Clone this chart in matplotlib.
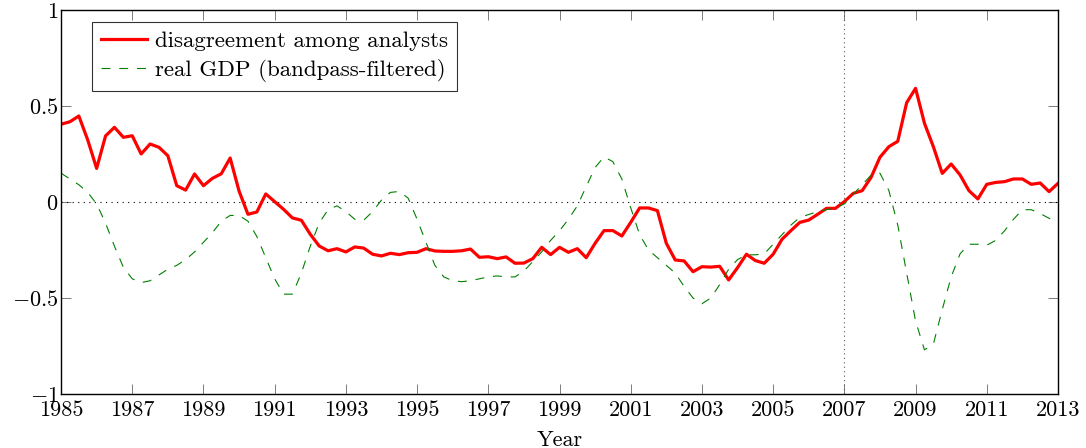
import numpy as np
import matplotlib
matplotlib.use("Agg")
import matplotlib.pyplot as plt

plt.rcParams['font.family'] = 'cmr10'
plt.rcParams['mathtext.fontset'] = 'cm'
plt.rcParams['axes.formatter.use_mathtext'] = True

# quarterly data, 1985Q1 .. 2013Q1
disagreement = [
    0.405, 0.418, 0.448, 0.323,
    0.175, 0.344, 0.389, 0.337,
    0.345, 0.250, 0.302, 0.285,
    0.241, 0.085, 0.062, 0.146,
    0.085, 0.123, 0.147, 0.229,
    0.057, -0.064, -0.052, 0.042,
    0.002, -0.038, -0.083, -0.095,
    -0.168, -0.229, -0.254, -0.243,
    -0.260, -0.234, -0.240, -0.272,
    -0.281, -0.267, -0.274, -0.264,
    -0.262, -0.243, -0.255, -0.257,
    -0.257, -0.254, -0.245, -0.288,
    -0.285, -0.295, -0.286, -0.319,
    -0.318, -0.295, -0.236, -0.274,
    -0.236, -0.262, -0.243, -0.290,
    -0.215, -0.149, -0.149, -0.177,
    -0.106, -0.031, -0.031, -0.045,
    -0.215, -0.302, -0.307, -0.363,
    -0.337, -0.339, -0.335, -0.406,
    -0.342, -0.272, -0.305, -0.319,
    -0.272, -0.194, -0.149, -0.106,
    -0.094, -0.064, -0.033, -0.033,
    0.002, 0.045, 0.059, 0.128,
    0.233, 0.288, 0.316, 0.517,
    0.592, 0.410, 0.288, 0.149,
    0.198, 0.141, 0.059, 0.016,
    0.092, 0.102, 0.106, 0.120,
    0.120, 0.092, 0.099, 0.054,
    0.097,
]

gdp = [
    0.15, 0.12, 0.09, 0.05,
    -0.01, -0.11, -0.23, -0.34,
    -0.40, -0.42, -0.41, -0.38,
    -0.35, -0.33, -0.30, -0.26,
    -0.21, -0.16, -0.10, -0.07,
    -0.07, -0.10, -0.18, -0.29,
    -0.40, -0.48, -0.48, -0.37,
    -0.23, -0.11, -0.04, -0.02,
    -0.05, -0.09, -0.095, -0.05,
    0.01, 0.05, 0.055, 0.02,
    -0.09, -0.21, -0.33, -0.39,
    -0.41, -0.415, -0.41, -0.40,
    -0.39, -0.385, -0.39, -0.39,
    -0.36, -0.31, -0.26, -0.20,
    -0.15, -0.09, -0.02, 0.08,
    0.18, 0.235, 0.21, 0.12,
    -0.03, -0.17, -0.25, -0.29,
    -0.33, -0.37, -0.44, -0.50,
    -0.53, -0.50, -0.43, -0.35,
    -0.30, -0.275, -0.275, -0.27,
    -0.22, -0.17, -0.12, -0.08,
    -0.065, -0.05, -0.04, -0.03,
    -0.01, 0.04, 0.09, 0.14,
    0.15, 0.06, -0.12, -0.37,
    -0.62, -0.77, -0.74, -0.56,
    -0.39, -0.27, -0.22, -0.22,
    -0.225, -0.20, -0.15, -0.09,
    -0.04, -0.04, -0.06, -0.085,
    -0.10,
]

years_d = 1985 + 0.25 * np.arange(len(disagreement))
years_g = 1985 + 0.25 * np.arange(len(gdp))

x_ticks = list(range(1985, 2014, 2))
y_ticks = [-1, -0.5, 0, 0.5, 1]
y_labels = [r'$-1$', r'$-0.5$', r'$0$', r'$0.5$', r'$1$']

fig = plt.figure(figsize=(10.86, 4.48), dpi=100)
ax = fig.add_axes([0.0562, 0.1205, 0.9180, 0.8572])

ax.axhline(0, color='black', linestyle=(0, (1, 4)), linewidth=0.8)
ax.axvline(2007, color='0.35', linestyle=(0, (1, 3)), linewidth=0.8)

ax.plot(years_d, disagreement, color='red', linewidth=2.3,
        label='disagreement among analysts')
ax.plot(years_g, gdp, color=(0, 0.5, 0), linewidth=0.8,
        linestyle=(0, (8, 8)), label='real GDP (bandpass-filtered)')

ax.set_xlim(1985, 2013)
ax.set_ylim(-1, 1)
ax.set_xticks(x_ticks)
ax.set_xticklabels([str(y) for y in x_ticks])
ax.set_yticks(y_ticks)
ax.set_yticklabels(y_labels)
ax.tick_params(direction='in', length=7, width=0.6, color='0.4',
               top=True, right=True, labelsize=16, pad=2)
ax.tick_params(axis='x', pad=5)
for s in ax.spines.values():
    s.set_linewidth(1.0)

ax.set_xlabel('Year', fontsize=16, labelpad=7)

leg = ax.legend(loc='upper left', bbox_to_anchor=(0.031, 0.969), fontsize=16.5,
                borderaxespad=0, frameon=True, fancybox=False,
                edgecolor='black', handlelength=2.0, borderpad=0.4,
                labelspacing=0.35, handletextpad=0.35)
leg.get_frame().set_linewidth(0.8)

fig.savefig('out.png', dpi=100)
